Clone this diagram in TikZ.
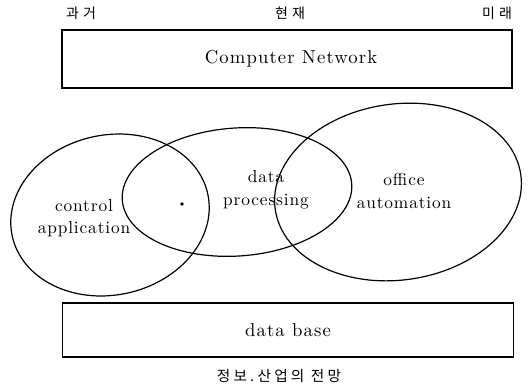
\documentclass[tikz,border=0pt]{standalone}
\usepackage{fontspec}
\setmainfont{lmroman10-regular.otf}
\newfontfamily\kor{Noto Sans CJK KR}

\begin{document}
\begin{tikzpicture}[
  x=0.75pt,
  y=-0.75pt,
  line width=0.9pt,
  band/.style={draw,rectangle,inner sep=0,minimum width=338pt,
    font=\fontsize{14}{16}\selectfont\addfontfeatures{LetterSpace=6}},
  area/.style={align=center,font=\fontsize{13}{17}\selectfont\addfontfeatures{LetterSpace=5}},
  era/.style={font=\kor\fontsize{10.5}{12}\selectfont\addfontfeatures{LetterSpace=30}}
  ]

  \useasboundingbox (0,0) rectangle (530,389);

  % time line
  \node [era] (past) at (81, 13) {과거};
  \node [era] (now) at (290, 13) {현재};
  \node [era] (future) at (497, 13) {미래};

  \draw (62, 30) rectangle (512, 88);
  \node [font=\fontsize{14}{16}\selectfont\addfontfeatures{LetterSpace=6}] (net) at (291, 59) {Computer Network};

  % fields
  \draw [rotate around={12:(110,215)}] (110,215) ellipse [x radius=100, y radius=80];
  \draw [rotate around={4:(237,192)}] (237,192) ellipse [x radius=115, y radius=64];
  \draw [rotate around={8:(398,192)}] (398,192) ellipse [x radius=124, y radius=88];
  \fill (182, 204) circle [radius=1.8];

  \node [area] (ctrl) at (84, 218) {control\\application};
  \node [area] (dp) at (266, 190) {data\\processing};
  \node [area] (oa) at (404, 191) {office\\automation};

  \node [band,minimum height=40.5pt] (db) at (288, 330) {data base};
  \node [era,font=\kor\fontsize{11}{12}\selectfont\addfontfeatures{LetterSpace=22}] (title) at (279, 376) {정보.산업의 전망};

\end{tikzpicture}
\end{document}
